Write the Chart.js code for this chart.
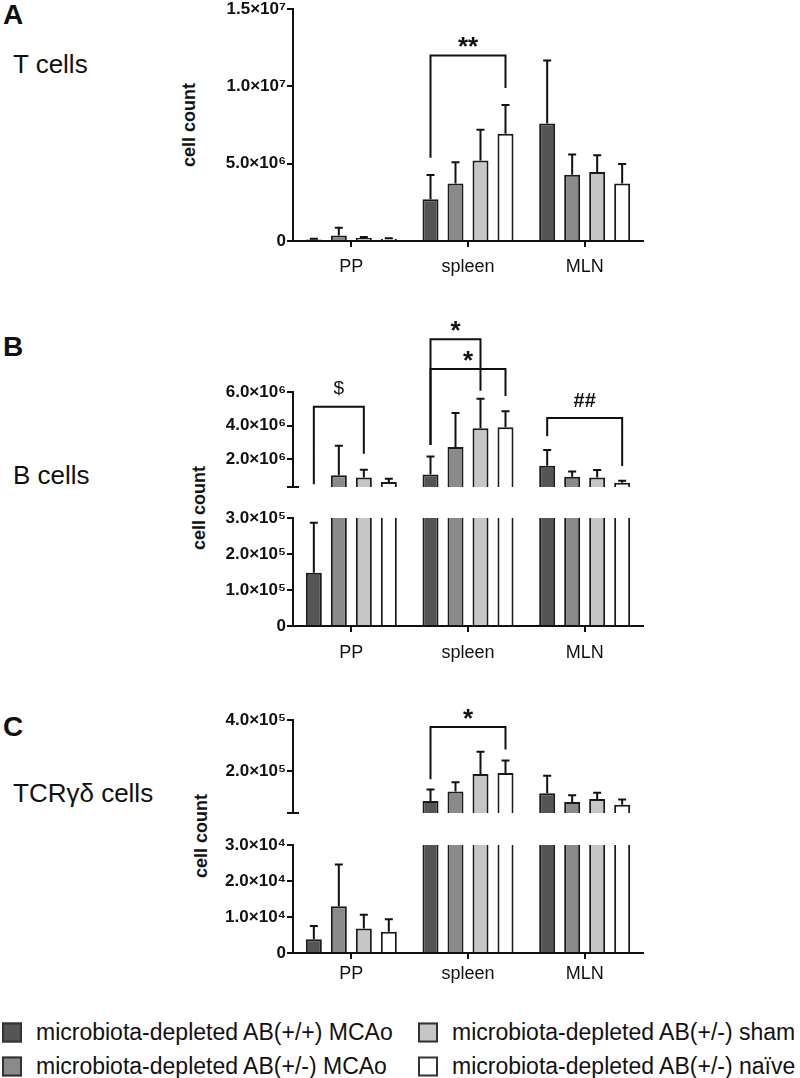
<!DOCTYPE html>
<html>
<head>
<meta charset="utf-8">
<script src="https://cdn.jsdelivr.net/npm/chart.js@4.4.1/dist/chart.umd.min.js"></script>
<style>
  body { margin: 0; background: #fff; }
  #page { position: relative; width: 800px; height: 1078px; overflow: hidden; font-family: "Liberation Sans", Arial, sans-serif; color: #111; }
  #page canvas { position: absolute; left: 0; }
  .txt { position: absolute; white-space: nowrap; line-height: 1; }
  .letter { font-weight: bold; font-size: 28px; left: 3px; }
  .title { font-size: 26px; left: 13px; }
  .ylab { font-weight: bold; font-size: 18px; transform: translate(-50%, -50%) rotate(-90deg); }
  .leg { position: absolute; display: flex; align-items: center; font-size: 23px; white-space: nowrap; }
  .sw { width: 16px; height: 16px; border: 2px solid #333; margin-right: 14px; }
</style>
</head>
<body>
<div id="page">
  <div class="txt letter" style="top:1px">A</div>
  <div class="txt title" style="top:51px">T cells</div>
  <div class="txt ylab" style="left:189px; top:125px">cell count</div>

  <div class="txt letter" style="top:333px">B</div>
  <div class="txt title" style="top:462px">B cells</div>
  <div class="txt ylab" style="left:199px; top:508px">cell count</div>

  <div class="txt letter" style="top:713px">C</div>
  <div class="txt title" style="top:780px">TCRγδ cells</div>
  <div class="txt ylab" style="left:201px; top:836px">cell count</div>

  <div id="legend"></div>
</div>

<script>
// --- DATA ---
const categories = ['PP', 'spleen', 'MLN'];
const groupNames = [
    'microbiota-depleted AB(+/+) MCAo',
    'microbiota-depleted AB(+/-) MCAo',
    'microbiota-depleted AB(+/-) sham',
    'microbiota-depleted AB(+/-) naïve'
];

// T cells, one row per group (PP, spleen, MLN)
const tMean = [
    [0.09e6, 2.7e6, 7.6e6],
    [0.35e6, 3.72e6, 4.28e6],
    [0.2e6, 5.2e6, 4.46e6],
    [0.15e6, 6.93e6, 3.72e6]
];
const tErr = [
    [0.06e6, 1.56e6, 4.07e6],
    [0.5e6, 1.37e6, 1.31e6],
    [0.06e6, 2.0e6, 1.08e6],
    [0.03e6, 1.87e6, 1.26e6]
];

// B cells
const bMean = [
    [1.48e5, 1.1e6, 1.62e6],
    [1.05e6, 2.73e6, 0.96e6],
    [0.91e6, 3.85e6, 0.91e6],
    [0.65e6, 3.9e6, 0.61e6]
];
const bErr = [
    [1.39e5, 1.06e6, 0.93e6],
    [1.76e6, 2.02e6, 0.31e6],
    [0.47e6, 1.75e6, 0.45e6],
    [0.19e6, 0.96e6, 0.11e6]
];

// TCRgd cells
const gMean = [
    [0.38e4, 0.84e5, 1.14e5],
    [1.3e4, 1.21e5, 0.80e5],
    [0.68e4, 1.89e5, 0.92e5],
    [0.59e4, 1.93e5, 0.69e5]
];
const gErr = [
    [0.37e4, 0.45e5, 0.68e5],
    [1.16e4, 0.36e5, 0.26e5],
    [0.38e4, 0.87e5, 0.24e5],
    [0.35e4, 0.49e5, 0.21e5]
];

// axis ranges and ticks (broken axes split into upper / lower part)
const tRange = [0, 1.5e7];
const tTicks = [0, 5e6, 1e7, 1.5e7];
const bUpperRange = [3.5e5, 6e6];
const bUpperTicks = [2e6, 4e6, 6e6];
const bLowerRange = [0, 3e5];
const bLowerTicks = [0, 1e5, 2e5, 3e5];
const gUpperRange = [3.7e4, 4e5];
const gUpperTicks = [2e5, 4e5];
const gLowerRange = [0, 3e4];
const gLowerTicks = [0, 1e4, 2e4, 3e4];

// significance brackets: category, from group, to group, left foot, top, right foot (data units)
const tBrackets = [
    { cat: 1, from: 0, to: 3, left: 5.39e6, top: 12e6, right: 9.9e6, label: '**' }
];
const bBrackets = [
    { cat: 0, from: 0, to: 2, left: 0.51e6, top: 5.13e6, right: 2.33e6, label: '$' },
    { cat: 1, from: 0, to: 2, left: 2.85e6, top: 9.14e6, right: 6.07e6, label: '*' },
    { cat: 1, from: 0, to: 3, left: 2.85e6, top: 7.37e6, right: 5.76e6, label: '*' },
    { cat: 2, from: 0, to: 3, left: 3.37e6, top: 4.46e6, right: 1.6e6, label: '##' }
];
const gBrackets = [
    { cat: 1, from: 0, to: 3, left: 1.69e5, top: 3.73e5, right: 2.85e5, label: '*' }
];

// --- STYLE ---
const FONT = '"Liberation Sans", Arial, sans-serif';
const groupColors = ['#555555', '#8a8a8a', '#c6c6c6', '#ffffff'];
const markStyle = {
    '*': { font: `bold 26px ${FONT}`, lift: 0 },
    '**': { font: `bold 26px ${FONT}`, lift: 0 },
    '$': { font: `19px ${FONT}`, lift: 13 },
    '##': { font: `bold 20px ${FONT}`, lift: 11 }
};
const page = document.getElementById('page');

const SUP = '⁰¹²³⁴⁵⁶⁷⁸⁹';
function sciLabel(v) {
    if (v === 0) return '0';
    const e = Math.floor(Math.log10(v) + 1e-9);
    const m = v / Math.pow(10, e);
    return m.toFixed(1) + '×10' + String(e).split('').map(d => SUP[+d]).join('');
}

// error bars, brackets and the axis break mark
function overlay(errors, brackets, breakMark) {
    return {
        id: 'overlay',
        afterDraw(chart) {
            const { ctx, chartArea } = chart;
            const y = chart.scales.y;
            ctx.save();
            ctx.strokeStyle = '#111';
            ctx.lineWidth = 2;

            errors.forEach((errs, i) => {
                const meta = chart.getDatasetMeta(i);
                const vals = chart.data.datasets[i].data;
                meta.data.forEach((bar, j) => {
                    const v = vals[j];
                    if (v < y.min || v > y.max) return;
                    const top = y.getPixelForValue(v + errs[j]);
                    ctx.beginPath();
                    ctx.moveTo(bar.x, bar.y);
                    ctx.lineTo(bar.x, top);
                    ctx.moveTo(bar.x - 4, top);
                    ctx.lineTo(bar.x + 4, top);
                    ctx.stroke();
                });
            });

            brackets.forEach(b => {
                const x1 = chart.getDatasetMeta(b.from).data[b.cat].x;
                const x2 = chart.getDatasetMeta(b.to).data[b.cat].x;
                const yTop = y.getPixelForValue(b.top);
                ctx.beginPath();
                ctx.moveTo(x1, y.getPixelForValue(b.left));
                ctx.lineTo(x1, yTop);
                ctx.lineTo(x2, yTop);
                ctx.lineTo(x2, y.getPixelForValue(b.right));
                ctx.stroke();
                const st = markStyle[b.label];
                ctx.font = st.font;
                ctx.fillStyle = '#111';
                ctx.textAlign = 'center';
                ctx.textBaseline = 'alphabetic';
                ctx.fillText(b.label, (x1 + x2) / 2, yTop - st.lift);
            });

            if (breakMark) {
                ctx.beginPath();
                ctx.moveTo(chartArea.left - 6, chartArea.bottom);
                ctx.lineTo(chartArea.left + 6, chartArea.bottom);
                ctx.stroke();
            }
            ctx.restore();
        }
    };
}

function addChart(cfg) {
    const canvas = document.createElement('canvas');
    canvas.width = 800;
    canvas.height = cfg.height;
    canvas.style.top = cfg.top + 'px';
    page.appendChild(canvas);
    const bottomSpace = cfg.top + cfg.height - cfg.areaBottom;

    new Chart(canvas, {
        type: 'bar',
        data: {
            labels: categories,
            datasets: cfg.means.map((m, i) => ({
                label: groupNames[i],
                data: m,
                backgroundColor: groupColors[i],
                borderColor: '#1a1a1a',
                borderWidth: 2,
                borderSkipped: 'start',
                clip: 0,
                categoryPercentage: 0.857,
                barPercentage: 0.64
            }))
        },
        options: {
            responsive: false,
            animation: false,
            devicePixelRatio: 1,
            layout: { padding: { top: cfg.areaTop - cfg.top, right: 157, left: 0, bottom: cfg.showX ? 0 : bottomSpace } },
            plugins: { legend: { display: false }, tooltip: { enabled: false } },
            scales: {
                x: {
                    display: cfg.showX,
                    grid: { display: true, drawOnChartArea: false, drawTicks: true, tickLength: 6, offset: false, color: '#111', lineWidth: 2 },
                    border: { display: true, color: '#111', width: 2 },
                    ticks: { color: '#111', font: { family: FONT, size: 18 }, padding: cfg.labelPad || 8 },
                    afterFit: s => { s.height = bottomSpace; }
                },
                y: {
                    min: cfg.range[0],
                    max: cfg.range[1],
                    afterBuildTicks: s => { s.ticks = cfg.ticks.map(v => ({ value: v })); },
                    ticks: { callback: v => sciLabel(v), color: '#111', font: { family: FONT, size: 17, weight: 'bold' }, padding: 1 },
                    grid: { display: true, drawOnChartArea: false, drawTicks: true, tickLength: 6, color: '#111', lineWidth: 2 },
                    border: { display: true, color: '#111', width: 2 },
                    afterFit: s => { s.width = 293; }
                }
            }
        },
        plugins: [overlay(cfg.errs, cfg.brackets || [], cfg.breakMark)]
    });
}

// --- PANELS ---
addChart({ top: -30, height: 330, areaTop: 9, areaBottom: 241, range: tRange, ticks: tTicks, showX: true, labelPad: 9, means: tMean, errs: tErr, brackets: tBrackets });

addChart({ top: 300, height: 215, areaTop: 392, areaBottom: 501, range: bUpperRange, ticks: bUpperTicks, showX: false, means: bMean, errs: bErr, brackets: bBrackets, breakMark: true });
addChart({ top: 503, height: 177, areaTop: 518, areaBottom: 626, range: bLowerRange, ticks: bLowerTicks, showX: true, labelPad: 10, means: bMean, errs: bErr });

addChart({ top: 690, height: 151, areaTop: 720, areaBottom: 827, range: gUpperRange, ticks: gUpperTicks, showX: false, means: gMean, errs: gErr, brackets: gBrackets, breakMark: true });
addChart({ top: 830, height: 175, areaTop: 845, areaBottom: 953, range: gLowerRange, ticks: gLowerTicks, showX: true, labelPad: 4, means: gMean, errs: gErr });

// --- LEGEND ---
const legendPos = [
    { left: 2, top: 1032 }, { left: 2, top: 1066 },
    { left: 418, top: 1032 }, { left: 418, top: 1066 }
];
document.getElementById('legend').innerHTML = groupNames.map((name, i) => `
    <div class="leg" style="left:${legendPos[i].left}px; top:${legendPos[i].top}px; transform: translateY(-50%);">
        <div class="sw" style="background:${groupColors[i]}"></div><span>${name}</span>
    </div>
`).join('');
</script>
</body>
</html>
